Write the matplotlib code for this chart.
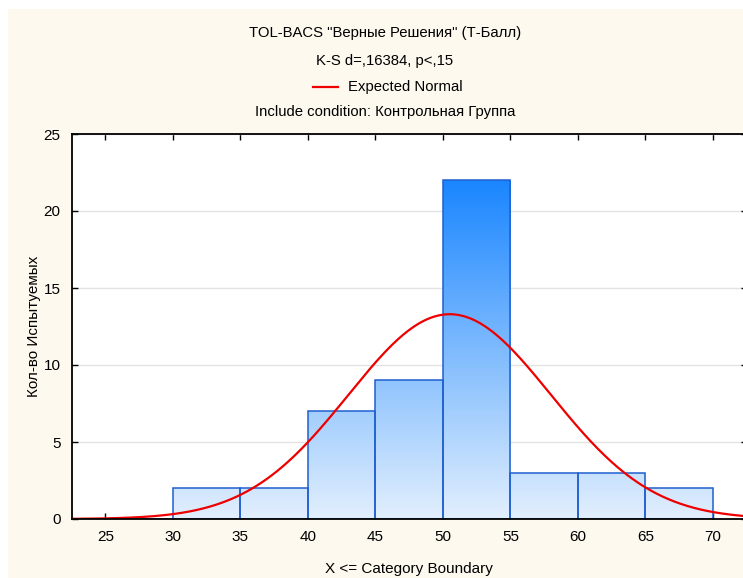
import numpy as np
import matplotlib.pyplot as plt
from matplotlib.patches import Rectangle
from matplotlib.colors import LinearSegmentedColormap

plt.rcParams['font.family'] = ['Liberation Sans', 'DejaVu Sans']

# histogram bins (upper boundaries) and counts
bin_edges = [25, 30, 35, 40, 45, 50, 55, 60, 65, 70]
counts = [0, 2, 2, 7, 9, 22, 3, 3, 2]

# fitted normal
n_total = 50
mean_t = 50.5
sd_t = 7.5
bin_w = 5

xticks = [25, 30, 35, 40, 45, 50, 55, 60, 65, 70]
yticks = [0, 5, 10, 15, 20, 25]

fig = plt.figure(figsize=(7.43, 5.78), dpi=100, facecolor='white')
# cream panel
fig.patches.append(Rectangle((8 / 743, 0), 1, 1 - 9 / 578, transform=fig.transFigure,
                             facecolor='#fdf9ef', edgecolor='none', zorder=-10))

ax = fig.add_axes([71.7 / 743, 1 - 519 / 578, 675 / 743, 385 / 578])
ax.set_facecolor('white')
ax.set_xlim(22.5, 72.5)
ax.set_ylim(0, 25)

ax.yaxis.grid(True, color='#e2e2e2', lw=1)
ax.set_axisbelow(True)

cmap = LinearSegmentedColormap.from_list('bl', ['#e2effd', '#1a86ff'])
grad = np.linspace(0, 1, 256).reshape(-1, 1)

for i, c in enumerate(counts):
    x0, x1 = bin_edges[i], bin_edges[i + 1]
    if c > 0:
        im = ax.imshow(grad, cmap=cmap, origin='lower', aspect='auto',
                       extent=[x0, x1, 0, 22], zorder=2, vmin=0, vmax=1)
        clip = Rectangle((x0, 0), x1 - x0, c, transform=ax.transData)
        im.set_clip_path(clip)
        ax.add_patch(Rectangle((x0, 0), x1 - x0, c, fill=False,
                               edgecolor='#1f5fd0', lw=1.1, zorder=3))
    else:
        ax.plot([x0, x1], [0, 0], color='#3a78e0', lw=2, zorder=3)

xs = np.linspace(22.5, 72.5, 400)
ys = n_total * bin_w / (sd_t * np.sqrt(2 * np.pi)) * np.exp(-(xs - mean_t) ** 2 / (2 * sd_t ** 2))
line, = ax.plot(xs, ys, color='#ee0000', lw=1.6, zorder=4)

ax.set_xticks(xticks)
ax.set_yticks(yticks)
ax.tick_params(direction='in', length=4, width=1, labelsize=11, colors='black',
               top=True, right=True, pad=8)
for s in ax.spines.values():
    s.set_linewidth(1.3)
    s.set_zorder(5)

ax.set_xlabel('X <= Category Boundary', fontsize=11, labelpad=13)
ax.set_ylabel('Кол-во Испытуемых', fontsize=11, labelpad=2)

fs = 10.7
fig.text(385 / 743, 1 - 33 / 578, 'TOL-BACS "Верные Решения" (Т-Балл)', ha='center', va='center', fontsize=fs)
fig.text(385 / 743, 1 - 61 / 578, 'K-S d=,16384, p<,15', ha='center', va='center', fontsize=fs)
fig.lines.append(plt.Line2D([313 / 743, 338 / 743], [1 - 87 / 578, 1 - 87 / 578],
                            transform=fig.transFigure, color='#ee0000', lw=1.6))
fig.text(348 / 743, 1 - 87 / 578, 'Expected Normal', ha='left', va='center', fontsize=fs)
fig.text(385 / 743, 1 - 112 / 578, 'Include condition: Контрольная Группа', ha='center', va='center', fontsize=fs)

plt.savefig('out.png', dpi=100)
